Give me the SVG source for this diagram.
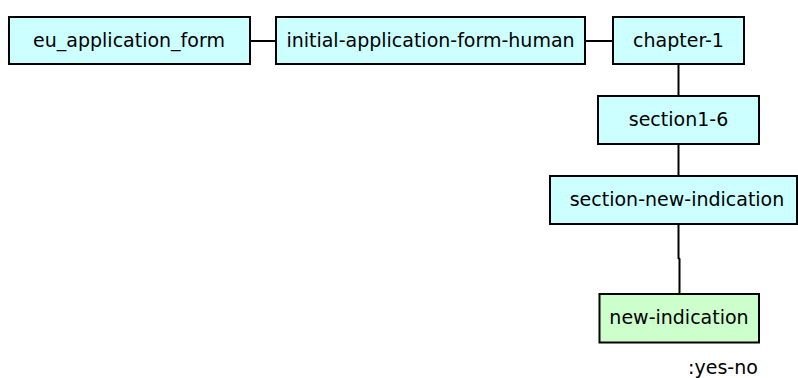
<svg xmlns="http://www.w3.org/2000/svg" width="798" height="378" viewBox="0 0 798 378">
<style>
.n rect{stroke:#000;stroke-width:2}
.c rect{fill:#ccffff}
.g rect{fill:#ccffcc}
text{font-family:"DejaVu Sans",Verdana,sans-serif;font-size:19px;fill:#000;text-anchor:middle}
#edges path{stroke:#000;stroke-width:2;fill:none}
</style>
<rect width="798" height="378" fill="#fff"/>
<g id="edges">
<path d="M250 41H276"/>
<path d="M585 41H613"/>
<path d="M678.5 64V96"/>
<path d="M678.5 144V176"/>
<path d="M678.5 224V258L679.5 259V294"/>
</g>
<g id="eu_application_form" class="n c"><rect x="9" y="17" width="241" height="47"/><text x="129" y="47">eu_application_form</text></g>
<g id="initial-application-form-human" class="n c"><rect x="276" y="17" width="309" height="47"/><text x="430.5" y="47">initial-application-form-human</text></g>
<g id="chapter-1" class="n c"><rect x="613" y="17" width="131" height="47"/><text x="678.5" y="47">chapter-1</text></g>
<g id="section1-6" class="n c"><rect x="598" y="96" width="161" height="48"/><text x="678.5" y="126">section1-6</text></g>
<g id="section-new-indication" class="n c"><rect x="550" y="176" width="247" height="48"/><text x="677" y="206">section-new-indication</text></g>
<g id="new-indication" class="n g"><rect x="599.5" y="294" width="159.5" height="48.5"/><text x="679" y="324">new-indication</text></g>
<text x="723" y="374">:yes-no</text>
</svg>
